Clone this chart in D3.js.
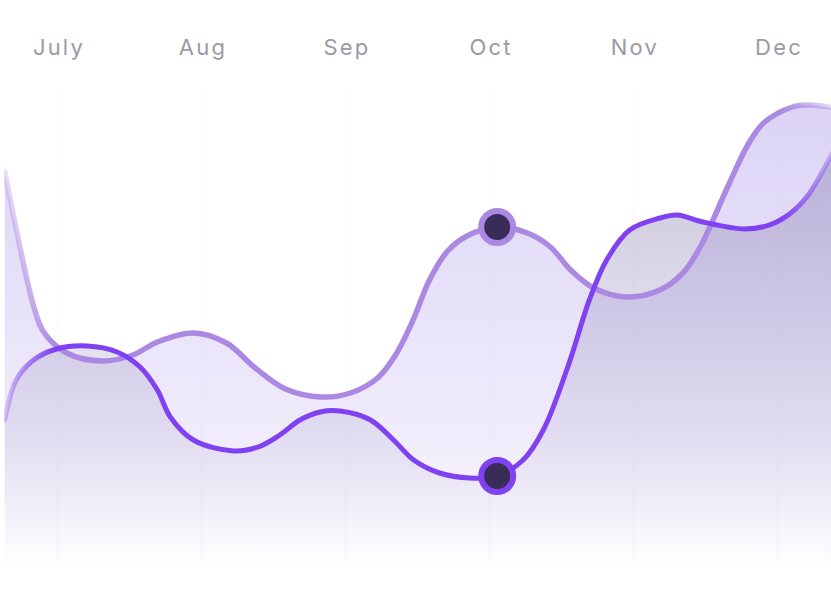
<!DOCTYPE html>
<html>
<head>
<meta charset="utf-8">
<script src="https://cdn.jsdelivr.net/npm/d3@7"></script>
<style>
  html, body { margin: 0; padding: 0; background: #fff; }
  #chart { width: 831px; height: 595px; }
  .month { font-family: Inter, "Open Sans", sans-serif; font-size: 22px; fill: #9c99a6; letter-spacing: 2.2px; }
</style>
</head>
<body>
<div id="chart"></div>
<script>
// month labels along the top
var months = ["July", "Aug", "Sep", "Oct", "Nov", "Dec"];

// positions in months (0 = July) and values
var lightPos = [-0.37, -0.26, -0.17, -0.10, 0.06, 0.31, 0.52, 0.69, 0.94, 1.17, 1.37, 1.58, 1.83, 2.03, 2.22, 2.34, 2.46, 2.58, 2.70, 2.84, 3.05, 3.26, 3.42, 3.56, 3.72, 3.95, 4.18, 4.34, 4.46, 4.65, 4.79, 4.90, 5.10, 5.22, 5.47];
var lightVal = [79.6, 64, 52.8, 47.6, 43.4, 41.8, 43, 45.6, 47.4, 45.4, 40.4, 36.2, 34.6, 35.4, 38.4, 42.8, 49.6, 58, 63.6, 66.8, 68.6, 67.4, 64.6, 60, 56.4, 54.6, 56, 59.4, 64.6, 76.6, 85, 89.4, 92.6, 93, 92];

var darkPos = [-0.37, -0.29, -0.17, -0.01, 0.20, 0.41, 0.57, 0.69, 0.78, 0.94, 1.22, 1.39, 1.54, 1.68, 1.82, 1.96, 2.17, 2.33, 2.47, 2.65, 2.86, 3.05, 3.23, 3.37, 3.54, 3.69, 3.81, 3.97, 4.18, 4.30, 4.48, 4.77, 4.94, 5.08, 5.21, 5.36, 5.47];
var darkVal = [30, 38, 42, 44.2, 44.8, 43.6, 40.6, 36, 30.6, 26, 23.8, 24.6, 27, 30, 31.6, 31.8, 30, 26, 22, 19.4, 18.4, 18.8, 22, 28, 40.6, 54, 62, 68, 70.4, 71, 69.6, 68.2, 69, 71.2, 75, 82.4, 88.4];

// highlighted point (Oct)
var markPos = 3.05;

function init(){
    var w = 831;
    var h = 595;

    var svg = d3.select("#chart")
      .append("svg")
      .attr("width", w)
      .attr("height", h);

    var xScale = d3.scaleLinear()
      .domain([0, months.length - 1])
      .range([58, 778]);

    var yScale = d3.scaleLinear()
      .domain([0, 100])
      .range([570, 70]);

    var light = lightPos.map(function(p, i){ return {p: p, v: lightVal[i]}; });
    var dark = darkPos.map(function(p, i){ return {p: p, v: darkVal[i]}; });

    var defs = svg.append("defs");

    defs.append("clipPath").attr("id", "plot")
      .append("rect")
      .attr("x", 4).attr("y", 0)
      .attr("width", w - 4).attr("height", h);

    // area fills: vertical gradient in page space, white at the bottom
    var areaGrad = function(id, color, stops){
        var g = defs.append("linearGradient")
          .attr("id", id)
          .attr("gradientUnits", "userSpaceOnUse")
          .attr("x1", 0).attr("x2", 0)
          .attr("y1", yScale(94)).attr("y2", yScale(0));
        stops.forEach(function(s){
          g.append("stop")
            .attr("offset", s[0])
            .attr("stop-color", color)
            .attr("stop-opacity", s[1]);
        });
    };
    areaGrad("lightFill", "#c4b5ef", [[0, 0.6], [0.73, 0.25], [0.99, 0]]);
    areaGrad("darkFill", "#8c82b4", [[0.15, 0.43], [1, 0]]);

    // lines fade out at the left and right edges
    var lineGrad = function(id, color){
        var g = defs.append("linearGradient")
          .attr("id", id)
          .attr("gradientUnits", "userSpaceOnUse")
          .attr("x1", 4).attr("x2", w)
          .attr("y1", 0).attr("y2", 0);
        g.append("stop").attr("offset", "0%").attr("stop-color", color).attr("stop-opacity", 0.25);
        g.append("stop").attr("offset", "6%").attr("stop-color", color).attr("stop-opacity", 1);
        g.append("stop").attr("offset", "94%").attr("stop-color", color).attr("stop-opacity", 1);
        g.append("stop").attr("offset", "100%").attr("stop-color", color).attr("stop-opacity", 0.3);
    };
    lineGrad("lightStroke", "#ab89e3");
    lineGrad("darkStroke", "#8042f0");

    // month labels
    svg.selectAll("text.month")
      .data(months)
      .enter()
      .append("text")
      .attr("class", "month")
      .attr("x", function(d, i){ return xScale(i) + 1; })
      .attr("y", 55)
      .attr("text-anchor", "middle")
      .text(function(d){ return d; });

    // faint vertical grid lines
    svg.selectAll("line.grid")
      .data(months)
      .enter()
      .append("line")
      .attr("class", "grid")
      .attr("x1", function(d, i){ return xScale(i); })
      .attr("x2", function(d, i){ return xScale(i); })
      .attr("y1", 92)
      .attr("y2", 560)
      .attr("stroke", "#7a60c0")
      .attr("stroke-opacity", 0.06)
      .attr("stroke-width", 1);

    var plot = svg.append("g").attr("clip-path", "url(#plot)");

    var curve = d3.curveCatmullRom.alpha(0.5);

    var area = d3.area()
      .x(function(d){ return xScale(d.p); })
      .y0(yScale(0))
      .y1(function(d){ return yScale(d.v); })
      .curve(curve);

    var line = d3.line()
      .x(function(d){ return xScale(d.p); })
      .y(function(d){ return yScale(d.v); })
      .curve(curve);

    plot.append("path").datum(light).attr("d", area).attr("fill", "url(#lightFill)");
    plot.append("path").datum(dark).attr("d", area).attr("fill", "url(#darkFill)");

    plot.append("path").datum(light).attr("d", line)
      .attr("fill", "none")
      .attr("stroke", "url(#lightStroke)")
      .attr("stroke-width", 5.5)
      .attr("stroke-linecap", "round");

    plot.append("path").datum(dark).attr("d", line)
      .attr("fill", "none")
      .attr("stroke", "url(#darkStroke)")
      .attr("stroke-width", 5)
      .attr("stroke-linecap", "round");

    // highlighted dots
    var marks = [
      {d: d3.least(light, function(d){ return Math.abs(d.p - markPos); }), color: "#ab89e3"},
      {d: d3.least(dark, function(d){ return Math.abs(d.p - markPos); }), color: "#8042f0"}
    ];

    svg.selectAll("circle.mark")
      .data(marks)
      .enter()
      .append("circle")
      .attr("class", "mark")
      .attr("cx", function(m){ return xScale(m.d.p); })
      .attr("cy", function(m){ return yScale(m.d.v); })
      .attr("r", 16)
      .attr("fill", "#3a2c58")
      .attr("stroke", function(m){ return m.color; })
      .attr("stroke-width", 6);
}

window.onload = init;
</script>
</body>
</html>
